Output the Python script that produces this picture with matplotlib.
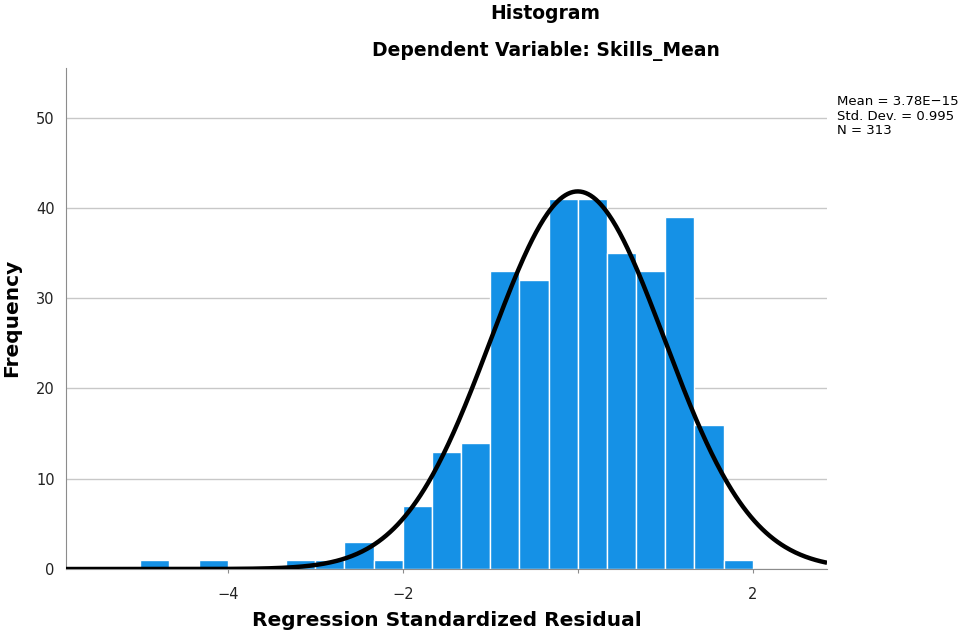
import numpy as np
import matplotlib
matplotlib.use("Agg")
import matplotlib.pyplot as plt

# Residual histogram: bin left edges (width 1/3) and counts
bin_width = 1.0 / 3.0
bin_starts = [-5.0, -13/3, -10/3, -3.0, -8/3, -7/3, -2.0, -5/3, -4/3, -1.0,
              -2/3, -1/3, 0.0, 1/3, 2/3, 1.0, 4/3, 5/3]
counts = [1, 1, 1, 1, 3, 1, 7, 13, 14, 33, 32, 41, 41, 35, 33, 39, 16, 1]

mean_val = 3.78e-15
std_val = 0.995
n_obs = 313

x_ticks = [-4, -2, 0, 2]
x_tick_labels = ["\u22124", "\u22122", "", "2"]
y_ticks = [0, 10, 20, 30, 40, 50]

fig = plt.figure(figsize=(9.59, 6.34), dpi=100)
ax = fig.add_axes([0.0688, 0.1025, 0.7936, 0.7902])

ax.bar(bin_starts, counts, width=bin_width, align="edge",
       color="#1591e6", edgecolor="white", linewidth=1.0, zorder=2)

# Normal curve scaled to the histogram
xs = np.linspace(-5.85, 2.85, 600)
pdf = np.exp(-0.5 * ((xs - mean_val) / std_val) ** 2) / (std_val * np.sqrt(2 * np.pi))
ax.plot(xs, n_obs * bin_width * pdf, color="black", linewidth=3.2, zorder=3,
        solid_capstyle="butt")

ax.set_xlim(-5.85, 2.85)
ax.set_ylim(0, 55.5)
ax.set_xticks(x_ticks)
ax.set_xticklabels(x_tick_labels)
ax.set_yticks(y_ticks)

ax.yaxis.grid(True, color="#c8c8c8", linewidth=1.0, zorder=0)
ax.set_axisbelow(True)
for side in ("top", "right"):
    ax.spines[side].set_visible(False)
ax.spines["left"].set_color("#8c8c8c")
ax.spines["bottom"].set_color("#8c8c8c")
ax.tick_params(axis="y", length=0, pad=8, labelsize=10.5, colors="#222222")
ax.tick_params(axis="x", length=3, color="#8c8c8c", pad=10, labelsize=10.5,
               labelcolor="#222222")

# Axis titles
fig.text(0.4655, 1 - 621 / 634, "Regression Standardized Residual",
         ha="center", va="center", fontsize=14.5, fontweight="bold")
fig.text(12 / 959, 1 - 318 / 634, "Frequency", ha="center", va="center",
         rotation=90, fontsize=14.5, fontweight="bold")

fig.text(0.569, 0.978, "Histogram", ha="center", va="center",
         fontsize=13.5, fontweight="bold")
fig.text(0.569, 0.919, "Dependent Variable: Skills_Mean", ha="center",
         va="center", fontsize=13.5, fontweight="bold")

fig.text(0.873, 1 - 116 / 634,
         "Mean = 3.78E\u221215\nStd. Dev. = 0.995\nN = %d" % n_obs,
         ha="left", va="center", fontsize=9.5, linespacing=1.12)

fig.savefig("out.png", dpi=100)
